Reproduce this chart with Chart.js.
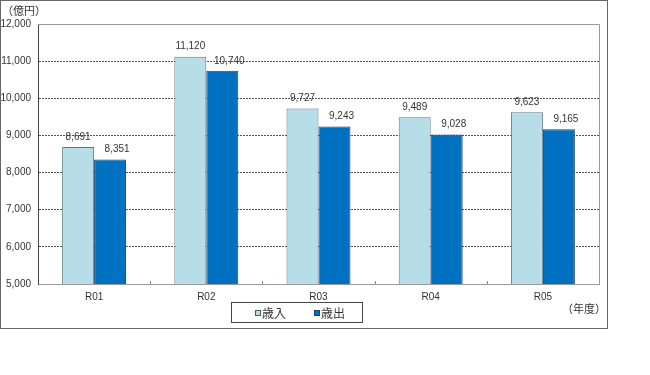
<!DOCTYPE html>
<html>
<head>
<meta charset="utf-8">
<script src="https://cdn.jsdelivr.net/npm/chart.js@4/dist/chart.umd.min.js"></script>
<style>
  html, body { margin: 0; padding: 0; background: #fff; }
  canvas { display: block; }
</style>
</head>
<body>
<canvas id="chart" width="650" height="375"></canvas>
<script>
// data
const years = ['R01', 'R02', 'R03', 'R04', 'R05'];
const revenue = [8691, 11120, 9727, 9489, 9623];      // 歳入
const expenditure = [8351, 10740, 9243, 9028, 9165];  // 歳出
const seriesNames = ['歳入', '歳出'];
const yMin = 5000;
const yMax = 12000;
const yStep = 1000;

const FONT = '"Liberation Sans", "Noto Sans CJK JP", sans-serif';
const JP_FONT = '"Noto Sans CJK JP", "Liberation Sans", sans-serif';
const lightFill = '#B7DEE8';
const darkFill = '#0070C0';

Chart.defaults.font.family = FONT;
Chart.defaults.font.size = 10;
Chart.defaults.color = '#333';

// frame, value labels, legend box and unit texts
const decor = {
  id: 'decor',
  afterDraw(chart) {
    const ctx = chart.ctx;
    const a = chart.chartArea;
    ctx.save();

    // outer border
    ctx.strokeStyle = '#666';
    ctx.lineWidth = 1;
    ctx.strokeRect(0.5, 0.5, 607, 328);

    // plot top + right edge
    ctx.strokeStyle = '#999';
    ctx.beginPath();
    ctx.moveTo(a.left, Math.round(a.top) + 0.5);
    ctx.lineTo(Math.round(a.right) + 0.5, Math.round(a.top) + 0.5);
    ctx.lineTo(Math.round(a.right) + 0.5, a.bottom);
    ctx.stroke();

    // small ticks between categories on the x axis
    const xs = chart.scales.x;
    ctx.strokeStyle = '#888';
    for (let i = 1; i < years.length; i++) {
      const x = Math.round((xs.getPixelForValue(i - 1) + xs.getPixelForValue(i)) / 2) + 0.5;
      ctx.beginPath();
      ctx.moveTo(x, a.bottom);
      ctx.lineTo(x, a.bottom - 3);
      ctx.stroke();
    }

    // value labels
    ctx.font = '10px ' + FONT;
    ctx.fillStyle = '#333';
    ctx.textAlign = 'center';
    ctx.textBaseline = 'bottom';
    chart.data.datasets.forEach((ds, di) => {
      const meta = chart.getDatasetMeta(di);
      meta.data.forEach((bar, j) => {
        const dx = di === 1 ? 7 : 0;
        ctx.fillText(ds.data[j].toLocaleString('en-US'), bar.x + dx, bar.y - 5);
      });
    });

    // unit texts
    ctx.font = '11px ' + JP_FONT;
    ctx.textAlign = 'left';
    ctx.textBaseline = 'middle';
    ctx.fillText('（億円）', 2, 11);
    ctx.textAlign = 'right';
    ctx.fillText('（年度）', 606, 309);

    // legend box
    ctx.strokeStyle = '#444';
    ctx.strokeRect(231.5, 302.5, 131, 20);
    ctx.font = '12px ' + JP_FONT;
    ctx.textAlign = 'left';
    const items = [[255, lightFill, '#555'], [314, darkFill, '#1F3F6F']];
    items.forEach(([x, fill, line], i) => {
      ctx.fillStyle = fill;
      ctx.fillRect(x, 310, 5, 5);
      ctx.strokeStyle = line;
      ctx.strokeRect(x + 0.5, 310.5, 5, 5);
      ctx.fillStyle = '#333';
      ctx.fillText(seriesNames[i], x + 7, 313);
    });

    ctx.restore();
  }
};

new Chart(document.getElementById('chart'), {
  type: 'bar',
  data: {
    labels: years,
    datasets: [
      { label: seriesNames[0], data: revenue, backgroundColor: lightFill, borderColor: '#5F7880', borderWidth: 1 },
      { label: seriesNames[1], data: expenditure, backgroundColor: darkFill, borderColor: '#1F3F6F', borderWidth: 1 }
    ]
  },
  options: {
    responsive: false,
    animation: false,
    layout: { padding: { top: 24, right: 51, left: 0, bottom: 0 } },
    datasets: { bar: { categoryPercentage: 0.57, barPercentage: 1 } },
    plugins: { legend: { display: false }, tooltip: { enabled: false } },
    scales: {
      x: {
        grid: { display: false, drawTicks: false },
        border: { color: '#999' },
        ticks: { padding: 7, color: '#333', font: { size: 10 } },
        afterFit: (s) => { s.height = 91; }
      },
      y: {
        min: yMin,
        max: yMax,
        ticks: {
          stepSize: yStep,
          padding: 7,
          color: '#333',
          font: { size: 10 },
          callback: (v) => v.toLocaleString('en-US')
        },
        grid: {
          drawTicks: false,
          color: (c) => (c.tick && (c.tick.value === yMin || c.tick.value === yMax)) ? 'rgba(0,0,0,0)' : '#555'
        },
        border: { color: '#444', dash: [2, 1] },
        afterFit: (s) => { s.width = 38; }
      }
    }
  },
  plugins: [decor]
});
</script>
</body>
</html>
